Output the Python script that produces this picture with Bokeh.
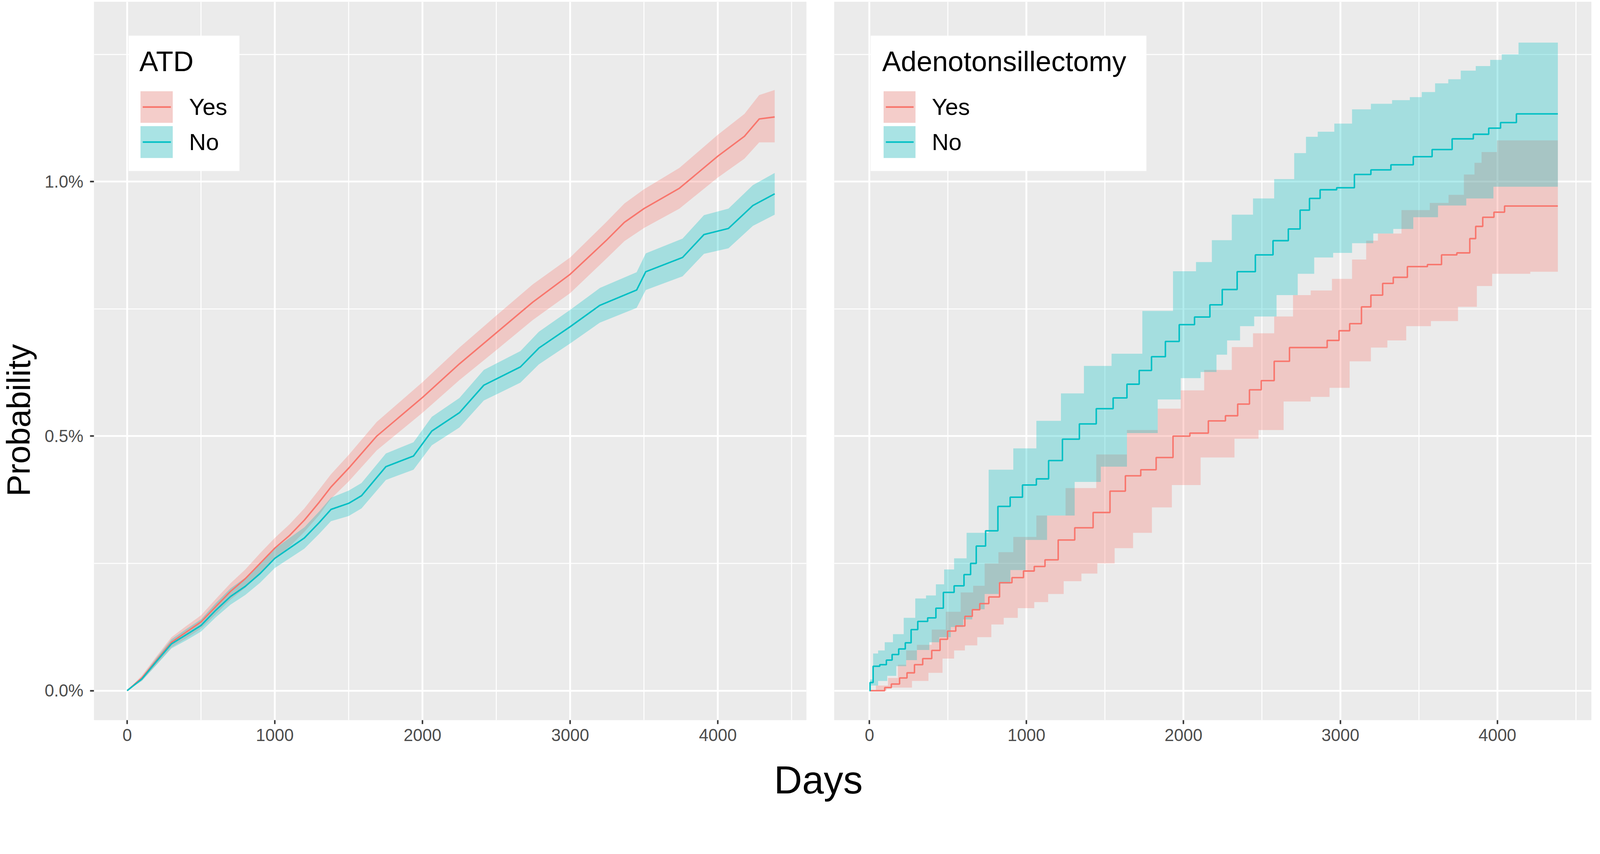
from bokeh.plotting import figure
from bokeh.models import (Range1d, FixedTicker, PrintfTickFormatter, BoxAnnotation, Label, LinearAxis)
from bokeh.layouts import row, column
from bokeh.embed import file_html
from bokeh.resources import INLINE
from bokeh.core.properties import value

RED = "#F8766D"
CYAN = "#00BFC4"
FONT = "Liberation Sans"
K = 4096 / 4317  # page is laid out at 4096 css px across the 4317 px picture

# ---------------- data (probability in %) ----------------
group_labels = ["Yes", "No"]
panel_titles = ["ATD", "Adenotonsillectomy"]
x_ticks = [0, 1000, 2000, 3000, 4000]
x_minor = [500, 1500, 2500, 3500, 4500]
y_ticks = [0.0, 0.5, 1.0]
y_minor = [0.25, 0.75, 1.25]

# Left panel: ATD
atd_yes_days = [0, 100, 200, 300, 400, 500, 600, 700, 800, 900, 1000, 1100, 1200, 1300, 1380,
                1500, 1690, 2000, 2250, 2500, 2746, 3000, 3243, 3367, 3500, 3740, 4000, 4180, 4280, 4385]
atd_yes = [0, 0.025, 0.06, 0.095, 0.115, 0.135, 0.165, 0.195, 0.22, 0.25, 0.28, 0.305, 0.335, 0.37, 0.40,
           0.437, 0.50, 0.576, 0.642, 0.703, 0.763, 0.818, 0.884, 0.92, 0.947, 0.987, 1.05, 1.089, 1.123, 1.127]
atd_yes_upper = [0, 0.03, 0.068, 0.105, 0.127, 0.148, 0.18, 0.211, 0.238, 0.27, 0.30, 0.327, 0.358, 0.395, 0.425,
                 0.463, 0.528, 0.606, 0.674, 0.737, 0.798, 0.851, 0.92, 0.957, 0.985, 1.027, 1.092, 1.133, 1.17, 1.18]
atd_yes_lower = [0, 0.02, 0.052, 0.085, 0.103, 0.122, 0.15, 0.179, 0.202, 0.23, 0.26, 0.283, 0.312, 0.345, 0.377,
                 0.411, 0.472, 0.546, 0.61, 0.669, 0.728, 0.781, 0.848, 0.883, 0.909, 0.947, 1.008, 1.045, 1.077, 1.077]

atd_no_days = [0, 100, 200, 300, 400, 500, 600, 700, 800, 900, 1000, 1100, 1200, 1300, 1380, 1500, 1587,
               1752, 1939, 2063, 2250, 2415, 2663, 2788, 3000, 3201, 3450, 3512, 3761, 3906, 4072, 4237, 4385]
atd_no = [0, 0.023, 0.058, 0.092, 0.11, 0.128, 0.158, 0.185, 0.205, 0.23, 0.26, 0.28, 0.30, 0.33, 0.356, 0.368,
          0.383, 0.44, 0.461, 0.51, 0.546, 0.60, 0.636, 0.673, 0.715, 0.757, 0.787, 0.823, 0.851, 0.896, 0.908, 0.953, 0.976]
atd_no_upper = [0, 0.027, 0.065, 0.101, 0.121, 0.14, 0.172, 0.201, 0.222, 0.248, 0.279, 0.30, 0.321, 0.352, 0.379,
                0.393, 0.408, 0.466, 0.488, 0.538, 0.575, 0.63, 0.667, 0.705, 0.748, 0.791, 0.822, 0.859, 0.888,
                0.934, 0.947, 0.993, 1.017]
atd_no_lower = [0, 0.019, 0.051, 0.083, 0.099, 0.116, 0.144, 0.169, 0.188, 0.212, 0.241, 0.26, 0.279, 0.308, 0.333,
                0.343, 0.358, 0.414, 0.434, 0.482, 0.517, 0.57, 0.605, 0.641, 0.682, 0.723, 0.752, 0.787, 0.814,
                0.858, 0.869, 0.913, 0.935]

# Right panel: Adenotonsillectomy (step curves)
at_yes_days = [0, 81, 113, 165, 218, 260, 313, 365, 428, 471, 523, 576, 639, 671, 734, 786, 871, 944, 1018, 1081,
               1155, 1249, 1366, 1483, 1581, 1679, 1777, 1875, 1992, 2090, 2227, 2308, 2383, 2458, 2533, 2623, 2728,
               2863, 2968, 3014, 3104, 3164, 3224, 3314, 3359, 3494, 3614, 3674, 3809, 3839, 3884, 3929, 4027, 4064, 4385]
at_yes = [0, 0, 0.006, 0.013, 0.025, 0.035, 0.051, 0.063, 0.079, 0.101, 0.117, 0.127, 0.146, 0.159, 0.171, 0.184,
          0.212, 0.222, 0.235, 0.244, 0.257, 0.296, 0.320, 0.350, 0.392, 0.422, 0.434, 0.458, 0.500, 0.506, 0.530,
          0.540, 0.563, 0.591, 0.609, 0.647, 0.674, 0.674, 0.688, 0.707, 0.721, 0.754, 0.777, 0.800, 0.812, 0.833,
          0.837, 0.856, 0.860, 0.888, 0.912, 0.930, 0.940, 0.952, 0.952]
at_yes_up_days = [0, 81, 155, 207, 260, 344, 449, 523, 639, 681, 786, 857, 975, 1151, 1347, 1542, 1738, 1934, 2031,
                  2233, 2383, 2503, 2653, 2743, 2878, 3014, 3134, 3194, 3284, 3494, 3644, 3734, 3839, 3869, 3929, 4064, 4385]
at_yes_up = [0, 0.010, 0.025, 0.051, 0.079, 0.090, 0.120, 0.155, 0.193, 0.206, 0.250, 0.272, 0.302, 0.344, 0.398,
             0.464, 0.512, 0.554, 0.590, 0.630, 0.675, 0.702, 0.735, 0.777, 0.786, 0.809, 0.847, 0.884, 0.898, 0.944,
             0.958, 0.974, 1.014, 1.037, 1.058, 1.081, 1.081]
at_yes_lo_days = [0, 218, 323, 428, 502, 576, 639, 734, 818, 892, 997, 1102, 1174, 1300, 1400, 1503, 1620, 1738,
                  1860, 1992, 2227, 2423, 2533, 2743, 2878, 2983, 3134, 3254, 3344, 3494, 3659, 3839, 3899, 4034, 4385]
at_yes_lo = [0, 0.006, 0.019, 0.035, 0.063, 0.079, 0.089, 0.105, 0.130, 0.143, 0.162, 0.174, 0.190, 0.215, 0.230,
             0.250, 0.280, 0.310, 0.360, 0.404, 0.458, 0.495, 0.512, 0.568, 0.577, 0.595, 0.647, 0.674, 0.688,
             0.716, 0.726, 0.754, 0.795, 0.819, 0.823]

at_no_days = [0, 7, 39, 92, 123, 165, 207, 249, 281, 334, 407, 439, 502, 576, 628, 660, 700, 779, 857, 935, 1014,
              1112, 1170, 1288, 1386, 1503, 1601, 1679, 1757, 1836, 1934, 2012, 2129, 2208, 2286, 2398, 2518, 2623,
              2713, 2773, 2833, 2908, 3044, 3134, 3254, 3389, 3539, 3629, 3794, 3899, 3990, 4050, 4192, 4385]
at_no = [0, 0.016, 0.048, 0.051, 0.060, 0.071, 0.082, 0.094, 0.120, 0.136, 0.143, 0.162, 0.193, 0.206, 0.228, 0.250,
         0.284, 0.314, 0.362, 0.380, 0.404, 0.416, 0.452, 0.494, 0.524, 0.554, 0.575, 0.602, 0.629, 0.656, 0.686,
         0.719, 0.734, 0.758, 0.788, 0.823, 0.856, 0.884, 0.907, 0.944, 0.967, 0.984, 0.988, 1.014, 1.023, 1.033,
         1.049, 1.063, 1.084, 1.093, 1.105, 1.116, 1.133, 1.133]
at_no_up_days = [0, 7, 39, 71, 123, 176, 260, 323, 397, 449, 502, 576, 661, 857, 975, 1151, 1288, 1444, 1640, 1836,
                 2031, 2129, 2233, 2383, 2503, 2653, 2758, 2803, 2908, 3014, 3134, 3254, 3404, 3480, 3556, 3650, 3724,
                 3809, 3915, 3993, 4062, 4207, 4385]
at_no_up = [0, 0.022, 0.073, 0.079, 0.095, 0.111, 0.143, 0.181, 0.187, 0.209, 0.238, 0.260, 0.310, 0.434, 0.476,
            0.530, 0.584, 0.638, 0.662, 0.746, 0.824, 0.842, 0.885, 0.935, 0.967, 1.005, 1.056, 1.088, 1.098, 1.114,
            1.142, 1.153, 1.160, 1.166, 1.176, 1.193, 1.201, 1.218, 1.227, 1.239, 1.250, 1.273, 1.273]
at_no_lo_days = [0, 18, 92, 134, 207, 260, 344, 418, 471, 565, 628, 681, 786, 860, 935, 1053, 1209, 1405, 1542, 1738,
                 1934, 2031, 2188, 2233, 2323, 2398, 2503, 2683, 2773, 2893, 3014, 3134, 3284, 3389, 3539, 3704, 3899,
                 4050, 4385]
at_no_lo = [0, 0.010, 0.019, 0.029, 0.048, 0.060, 0.080, 0.095, 0.105, 0.125, 0.140, 0.160, 0.190, 0.210, 0.237,
            0.296, 0.344, 0.410, 0.440, 0.506, 0.572, 0.614, 0.626, 0.660, 0.688, 0.716, 0.735, 0.777, 0.819, 0.851,
            0.860, 0.879, 0.898, 0.907, 0.930, 0.953, 0.967, 0.990, 0.990]


def step_path(xs, ys):
    """Step path with the jumps half way between the read points."""
    px_, py_ = [xs[0]], [ys[0]]
    for i in range(1, len(xs)):
        m = 0.5 * (xs[i - 1] + xs[i])
        px_ += [m, m]
        py_ += [ys[i - 1], ys[i]]
    px_.append(xs[-1])
    py_.append(ys[-1])
    return px_, py_


def px(v):
    return round(v * K, 1)


# ---------------- layout constants (css px) ----------------
FIG_H = 1920
FRAME_TOP = 4
FRAME_H = 1838
FRAME_BOT = FIG_H - FRAME_TOP - FRAME_H
PROB_W = 100
LEFT_W, LEFT_BL, LEFT_BR = 2000, 140, 36
RIGHT_W, RIGHT_BL = 1974, 35
FRAME_BOTTOM_PAGE = 8 + FRAME_TOP + FRAME_H
LEFT_FRAME_PAGE = 8 + PROB_W + LEFT_BL
RIGHT_FRAME_PAGE = 8 + PROB_W + LEFT_W + RIGHT_BL


def make_panel(width, border_left, border_right, show_y):
    p = figure(width=width, height=FIG_H,
               x_range=Range1d(-225, 4600), y_range=Range1d(-0.0579, 1.3533),
               output_backend="svg", toolbar_location=None,
               min_border_left=border_left, min_border_right=border_right,
               min_border_top=FRAME_TOP, min_border_bottom=FRAME_BOT,
               y_axis_location="left" if show_y else None)
    p.background_fill_color = "#EBEBEB"
    p.border_fill_color = "white"
    p.outline_line_color = None
    xt = FixedTicker(ticks=x_ticks, minor_ticks=x_minor)
    yt = FixedTicker(ticks=y_ticks, minor_ticks=y_minor)
    p.xaxis.ticker = xt
    p.xgrid.ticker = xt
    p.ygrid.ticker = yt
    for g in p.grid:
        g.grid_line_color = "white"
        g.grid_line_width = px(5)
        g.minor_grid_line_color = "white"
        g.minor_grid_line_width = px(2.6)
    axes = list(p.xaxis) + (list(p.yaxis) if show_y else [])
    for ax in axes:
        ax.axis_line_color = None
        ax.major_tick_line_color = "#333333"
        ax.major_tick_line_width = px(4)
        ax.major_tick_out = int(round(11 * K))
        ax.major_tick_in = 0
        ax.minor_tick_line_color = None
        ax.major_label_text_font = FONT
        ax.major_label_text_font_size = f"{46 * K:.1f}px"
        ax.major_label_text_color = "#4D4D4D"
    p.xaxis.major_label_standoff = 12
    if show_y:
        p.yaxis.ticker = yt
        p.yaxis.formatter = PrintfTickFormatter(format="%.1f%%")
        p.yaxis.major_label_standoff = 17
    return p


def manual_legend(p, frame_left_page, title, labels, colors, ref):
    """ref: picture-pixel positions of the ggplot legend box, keys, title and labels."""
    def sx(v):
        return v * K - frame_left_page

    def sy(v):
        return FRAME_BOTTOM_PAGE - v * K

    def box(l, r, t, b, color, alpha):
        p.add_layout(BoxAnnotation(left=sx(l), right=sx(r), top=sy(t), bottom=sy(b),
                                   left_units="screen", right_units="screen",
                                   top_units="screen", bottom_units="screen",
                                   fill_color=color, fill_alpha=alpha, line_color=None))

    box(ref["box"][0], ref["box"][1], 104, 469, "white", 1.0)
    p.add_layout(Label(x=sx(ref["title"]), y=sy(173), x_units="screen", y_units="screen",
                       text=title, text_font=FONT, text_font_size=f"{76 * K:.1f}px",
                       text_color="black", text_baseline="middle", text_align="left"))
    key_rows = [(254, 339), (348, 434)]
    for (k_top, k_bot), lab, col in zip(key_rows, labels, colors):
        box(ref["key"][0], ref["key"][1], k_top, k_bot, "#F2F2F2", 1.0)
        box(ref["key"][0], ref["key"][1], k_top, k_bot, col, 0.3)
        mid = 0.5 * (k_top + k_bot)
        box(ref["key"][0] + 6, ref["key"][1] - 5, mid - 2.2, mid + 2.2, col, 1.0)
        p.add_layout(Label(x=sx(ref["label"]), y=sy(mid), x_units="screen", y_units="screen",
                           text=lab, text_font=FONT, text_font_size=f"{63 * K:.1f}px",
                           text_color="black", text_baseline="middle", text_align="left"))


LINE_W = px(4)

# ---------- left panel ----------
left = make_panel(LEFT_W, LEFT_BL, LEFT_BR, True)
left.patch(atd_yes_days + atd_yes_days[::-1], atd_yes_upper + atd_yes_lower[::-1],
           fill_color=RED, fill_alpha=0.3, line_color=None)
left.patch(atd_no_days + atd_no_days[::-1], atd_no_upper + atd_no_lower[::-1],
           fill_color=CYAN, fill_alpha=0.3, line_color=None)
left.line(atd_yes_days, atd_yes, line_color=RED, line_width=LINE_W)
left.line(atd_no_days, atd_no, line_color=CYAN, line_width=LINE_W)
manual_legend(left, LEFT_FRAME_PAGE, panel_titles[0], group_labels, [RED, CYAN],
              {"box": (355, 654), "title": 384, "key": (387, 474), "label": 518})

# ---------- right panel ----------
right = make_panel(RIGHT_W, RIGHT_BL, 0, False)
for (ud, uv, ld, lv, col) in [(at_yes_up_days, at_yes_up, at_yes_lo_days, at_yes_lo, RED),
                              (at_no_up_days, at_no_up, at_no_lo_days, at_no_lo, CYAN)]:
    ux, uy = step_path(ud, uv)
    lx, ly = step_path(ld, lv)
    right.patch(ux + lx[::-1], uy + ly[::-1], fill_color=col, fill_alpha=0.3, line_color=None)
sx_, sy_ = step_path(at_yes_days, at_yes)
right.line(sx_, sy_, line_color=RED, line_width=LINE_W)
sx_, sy_ = step_path(at_no_days, at_no)
right.line(sx_, sy_, line_color=CYAN, line_width=LINE_W)
manual_legend(right, RIGHT_FRAME_PAGE, panel_titles[1], group_labels, [RED, CYAN],
              {"box": (2357, 3101), "title": 2388, "key": (2392, 2478), "label": 2522})


# ---------- outer titles ----------
def helper(w, h, xr, yr, **borders):
    f = figure(width=w, height=h, x_range=Range1d(*xr), y_range=Range1d(*yr),
               output_backend="svg", toolbar_location=None,
               x_axis_location=None, y_axis_location=None, **borders)
    f.grid.visible = False
    f.outline_line_color = None
    f.background_fill_color = "white"
    f.border_fill_color = "white"
    return f


# "Probability": same top/bottom borders as the panels (row alignment); frame units = px
prob = helper(PROB_W, FIG_H, (0, PROB_W), (0, FRAME_H),
              min_border_left=0, min_border_right=0,
              min_border_top=FRAME_TOP, min_border_bottom=FRAME_BOT)
prob_cy = FRAME_BOTTOM_PAGE - 1141 * K  # picture y 1141 -> px above the frame bottom
prob.text(x=[47], y=[prob_cy], text=["Probability"], angle=1.5707963,
          text_font=value(FONT), text_font_size=f"{88 * K:.1f}px", text_color="black",
          text_align="center", text_baseline="middle")


def title_axis(ax, text, size):
    ax.ticker = FixedTicker(ticks=[])
    ax.axis_line_color = None
    ax.major_tick_line_color = None
    ax.minor_tick_line_color = None
    ax.major_tick_out = 0
    ax.major_tick_in = 0
    ax.minor_tick_out = 0
    ax.major_label_standoff = 0
    ax.axis_label = text
    ax.axis_label_standoff = 0
    ax.axis_label_text_font = FONT
    ax.axis_label_text_font_size = size
    ax.axis_label_text_font_style = "normal"
    ax.axis_label_text_color = "black"


# "Days": centred at picture x 2216, cap top at picture y 2072
DAYS_H = 2057 - FIG_H
TOTAL_W = PROB_W + LEFT_W + RIGHT_W
days_left = int(round(2 * (2216 * K - 8) - TOTAL_W))
days_frame_h = int(round((2072 * K - 8) - 0.19 * 105 * K - FIG_H))
days = helper(TOTAL_W, DAYS_H, (0, 1), (0, 1), min_border_left=days_left, min_border_right=0,
              min_border_top=0, min_border_bottom=DAYS_H - days_frame_h)
xax = LinearAxis()
title_axis(xax, "Days", f"{105 * K:.1f}px")
days.add_layout(xax, "below")

layout = column(row(prob, left, right), days)
open("out.html", "w").write(file_html(layout, INLINE))
